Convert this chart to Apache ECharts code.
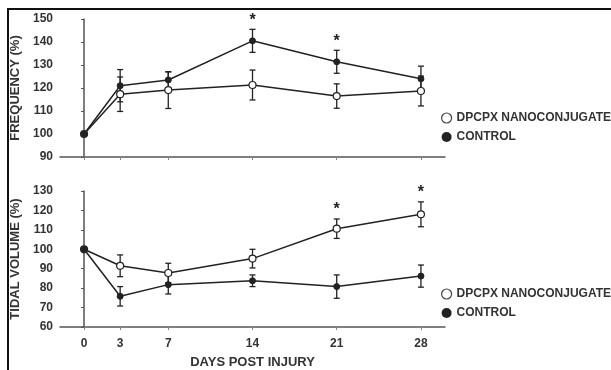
<!DOCTYPE html>
<html>
<head>
<meta charset="utf-8">
<script src="https://cdn.jsdelivr.net/npm/echarts@6/dist/echarts.min.js"></script>
<style>
html,body{margin:0;padding:0;background:#fff;}
#chart{width:611px;height:370px;}
</style>
</head>
<body>
<div id="chart"></div>
<script>
const days = [0, 3, 7, 14, 21, 28];
const dayTicks = [0, 3, 7, 14, 21, 28];
const freqTicks = [90, 100, 110, 120, 130, 140, 150];
const tidalTicks = [60, 70, 80, 90, 100, 110, 120, 130];

// Frequency (%)
const freqDpcpx = [100, 117.3, 119.1, 121.3, 116.5, 118.7];
const freqDpcpxErr = [0, 7.5, 8, 6.5, 5.3, 6.5];
const freqControl = [100, 121, 123.5, 140.5, 131.4, 124];
const freqControlErr = [0, 7, 3.5, 5, 5, 5.5];
const freqStars = [14, 21];

// Tidal volume (%)
const tidalDpcpx = [100, 91.5, 87.8, 95.2, 110.6, 118];
const tidalDpcpxErr = [0, 5.6, 5, 4.8, 5, 6.4];
const tidalControl = [100, 75.8, 81.8, 83.8, 80.8, 86.2];
const tidalControlErr = [0, 5, 4.8, 3, 6, 5.7];
const tidalStars = [21, 28];

const NAME_D = 'DPCPX NANOCONJUGATE';
const NAME_C = 'CONTROL';
const ink = '#222';
const axisInk = '#555';
const labelInk = '#333';
const font = 'Liberation Sans, Arial, sans-serif';

function pairs(vals) { return days.map((d, i) => [d, vals[i]]); }
function errData(vals, errs) { return days.map((d, i) => [d, vals[i] - errs[i], vals[i] + errs[i]]); }

function errSeries(vals, errs, gi) {
  return {
    type: 'custom', xAxisIndex: gi, yAxisIndex: gi, silent: true, z: 1,
    data: errData(vals, errs),
    renderItem: function (params, api) {
      const x = api.value(0), lo = api.value(1), hi = api.value(2);
      if (hi - lo <= 0) return null;
      const p1 = api.coord([x, lo]), p2 = api.coord([x, hi]);
      const w = 3;
      const st = { stroke: ink, lineWidth: 1.3 };
      return {
        type: 'group', children: [
          { type: 'line', shape: { x1: p1[0], y1: p1[1], x2: p2[0], y2: p2[1] }, style: st },
          { type: 'line', shape: { x1: p1[0] - w, y1: p1[1], x2: p1[0] + w, y2: p1[1] }, style: st },
          { type: 'line', shape: { x1: p2[0] - w, y1: p2[1], x2: p2[0] + w, y2: p2[1] }, style: st }
        ]
      };
    }
  };
}

function starSeries(starDays, vals, errs, gi) {
  const data = starDays.map(d => { const i = days.indexOf(d); return [d, vals[i] + errs[i]]; });
  return {
    type: 'custom', xAxisIndex: gi, yAxisIndex: gi, silent: true, z: 3,
    data: data,
    renderItem: function (params, api) {
      const p = api.coord([api.value(0), api.value(1)]);
      return { type: 'text', x: p[0], y: p[1] - 1, style: { text: '*', font: 'bold 16px ' + font, fill: ink, align: 'center', verticalAlign: 'bottom' } };
    }
  };
}

function lineSeries(name, vals, gi, open) {
  return {
    name: name, type: 'line', xAxisIndex: gi, yAxisIndex: gi, z: 2,
    data: pairs(vals), symbol: 'circle', symbolSize: open ? 7 : 6,
    lineStyle: { color: ink, width: 1.5 },
    itemStyle: open ? { color: '#fff', borderColor: ink, borderWidth: 1.2 } : { color: ink, borderColor: ink, borderWidth: 1 },
    emphasis: { disabled: true }
  };
}

function yAxis(gi, name, min, max, ticks) {
  return {
    type: 'value', gridIndex: gi, min: min, max: max, interval: 10,
    name: name, nameLocation: 'middle', nameGap: 36, nameRotate: 90,
    nameTextStyle: { fontFamily: font, fontWeight: 'bold', fontSize: 13, color: labelInk },
    axisLine: { show: true, lineStyle: { color: axisInk, width: 1.5 } },
    axisTick: { show: true, length: 3, lineStyle: { color: axisInk } },
    axisLabel: { fontFamily: font, fontWeight: 'bold', fontSize: 12, color: labelInk, margin: 7 },
    splitLine: { show: false }
  };
}

function xAxis(gi, showLabels) {
  return {
    type: 'value', gridIndex: gi, min: -2, max: 30,
    name: showLabels ? 'DAYS POST INJURY' : '', nameLocation: 'middle', nameGap: 29,
    nameTextStyle: { fontFamily: font, fontWeight: 'bold', fontSize: 13, color: labelInk },
    axisLine: { show: true, lineStyle: { color: axisInk, width: 1.5 } },
    axisTick: { show: true, length: 3, customValues: dayTicks, lineStyle: { color: '#888' } },
    axisLabel: { show: showLabels, customValues: dayTicks, fontFamily: font, fontWeight: 'bold', fontSize: 12, color: labelInk, margin: 11 },
    splitLine: { show: false }
  };
}

function legend(top) {
  return {
    orient: 'vertical', left: 441, top: top, padding: 0, itemGap: 7, itemWidth: 10, itemHeight: 10,
    selectedMode: false,
    textStyle: { fontFamily: font, fontWeight: 'bold', fontSize: 12, color: labelInk },
    data: [
      { name: NAME_D, icon: 'circle', itemStyle: { color: '#fff', borderColor: '#444', borderWidth: 1.2 } },
      { name: NAME_C, icon: 'circle', itemStyle: { color: ink, borderColor: ink, borderWidth: 0 } }
    ]
  };
}

const chart = echarts.init(document.getElementById('chart'), null, { renderer: 'canvas' });
chart.setOption({
  backgroundColor: '#fff',
  animation: false,
  grid: [
    { left: 60, right: 166, top: 19, height: 138 },
    { left: 60, right: 166, top: 191, height: 137 }
  ],
  xAxis: [xAxis(0, false), xAxis(1, true)],
  yAxis: [yAxis(0, 'FREQUENCY (%)', 90, 150, freqTicks), yAxis(1, 'TIDAL VOLUME (%)', 60, 130, tidalTicks)],
  legend: [legend(112), legend(288)],
  series: [
    errSeries(freqDpcpx, freqDpcpxErr, 0),
    errSeries(freqControl, freqControlErr, 0),
    lineSeries(NAME_D, freqDpcpx, 0, true),
    lineSeries(NAME_C, freqControl, 0, false),
    starSeries(freqStars, freqControl, freqControlErr, 0),
    errSeries(tidalDpcpx, tidalDpcpxErr, 1),
    errSeries(tidalControl, tidalControlErr, 1),
    lineSeries(NAME_D, tidalDpcpx, 1, true),
    lineSeries(NAME_C, tidalControl, 1, false),
    starSeries(tidalStars, tidalDpcpx, tidalDpcpxErr, 1)
  ],
  graphic: [
    { type: 'line', shape: { x1: 7, y1: 9, x2: 611, y2: 9 }, style: { stroke: '#111', lineWidth: 2 } },
    { type: 'line', shape: { x1: 8, y1: 8, x2: 8, y2: 370 }, style: { stroke: '#111', lineWidth: 2 } }
  ]
});
</script>
</body>
</html>
